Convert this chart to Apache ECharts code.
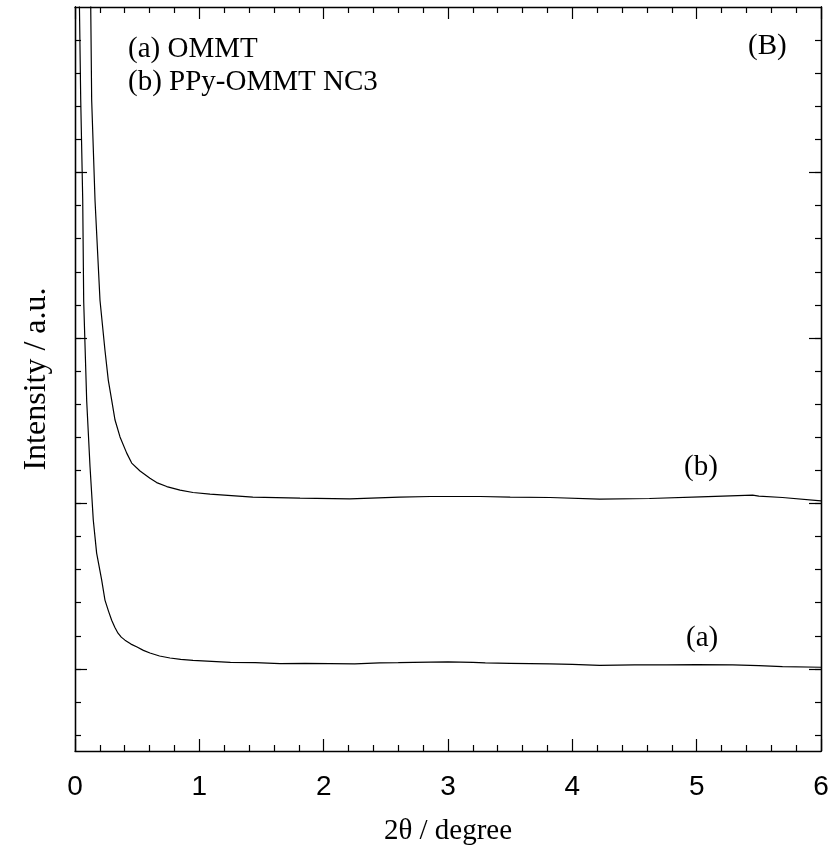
<!DOCTYPE html>
<html>
<head>
<meta charset="utf-8">
<script src="https://cdn.jsdelivr.net/npm/echarts@6/dist/echarts.min.js"></script>
<style>
  html, body { margin: 0; padding: 0; background: #fff; }
  #chart { width: 840px; height: 846px; }
</style>
</head>
<body>
<div id="chart"></div>
<script>
// curve (a) OMMT
var xA = [0.030, 0.035, 0.046, 0.062, 0.070, 0.094, 0.121, 0.147, 0.174, 0.214, 0.241, 0.270, 0.295, 0.320,
  0.346, 0.372, 0.402, 0.450, 0.499, 0.550, 0.603, 0.680, 0.764, 0.850, 0.949, 1.25, 1.45, 1.65, 1.85,
  2.05, 2.25, 2.45, 2.60, 2.72, 3.00, 3.20, 3.30, 3.50, 3.82, 4.00, 4.22, 4.50, 4.76, 5.00, 5.29, 5.50,
  5.69, 6.00];
var yA = [23.5, 22.2, 19.2, 16.2, 13.1, 10.1, 8.1, 6.5, 5.5, 4.7, 4.08, 3.74, 3.47, 3.26,
  3.08, 2.96, 2.87, 2.75, 2.66, 2.56, 2.48, 2.39, 2.33, 2.29, 2.26, 2.20, 2.19, 2.16, 2.17,
  2.16, 2.15, 2.18, 2.19, 2.20, 2.21, 2.20, 2.18, 2.17, 2.15, 2.14, 2.11, 2.12, 2.12, 2.13, 2.12, 2.10,
  2.07, 2.05];

// curve (b) PPy-OMMT NC3
var xB = [0.120, 0.126, 0.134, 0.161, 0.201, 0.241, 0.268, 0.295, 0.322, 0.362, 0.416, 0.456, 0.523, 0.603,
  0.657, 0.738, 0.845, 0.949, 1.086, 1.43, 1.81, 2.21, 2.61, 2.86, 3.26, 3.50, 3.82, 4.22, 4.62, 5.03,
  5.45, 5.50, 5.69, 6.00];
var yB = [23.5, 22.2, 19.2, 16.16, 13.14, 11.63, 10.72, 10.12, 9.52, 9.01, 8.52, 8.22, 7.98, 7.76,
  7.63, 7.51, 7.40, 7.33, 7.28, 7.19, 7.16, 7.14, 7.19, 7.21, 7.21, 7.19, 7.18, 7.13, 7.15, 7.20,
  7.25, 7.22, 7.18, 7.08];

var xTicks = ['0', '1', '2', '3', '4', '5', '6'];
var yMinorTicks = [];
for (var i = 0; i <= 21; i++) yMinorTicks.push(i);
var yMajorTicks = [2, 7, 12, 17];

function pairs(xs, ys) {
  return xs.map(function (x, i) { return [x, ys[i]]; });
}

var serif = "'Liberation Serif', 'Times New Roman', serif";
var axisLine = { show: true, onZero: false, lineStyle: { color: '#000', width: 1.3 } };

function xAx(pos, labels) {
  return {
    type: 'value', position: pos, min: 0, max: 6, interval: 1,
    axisLine: axisLine,
    axisTick: { show: true, inside: true, length: 12, lineStyle: { color: '#000', width: 1.2 } },
    minorTick: { show: true, splitNumber: 5, length: 6, lineStyle: { color: '#000', width: 1.2 } },
    splitLine: { show: false },
    axisLabel: labels ? {
      show: true, margin: 22, color: '#000', fontSize: 28,
      fontFamily: "'Liberation Sans', Arial, sans-serif",
      formatter: function (v) { return xTicks[Math.round(v)]; }
    } : { show: false }
  };
}

function yAx(pos, ticks, len) {
  return {
    type: 'value', position: pos, min: -0.48, max: 22,
    axisLine: axisLine,
    axisTick: { show: true, inside: true, length: len, customValues: ticks, lineStyle: { color: '#000', width: 1.2 } },
    splitLine: { show: false },
    axisLabel: { show: false }
  };
}

var myChart = echarts.init(document.getElementById('chart'));
var xBottom = xAx('bottom', true);
xBottom.name = '2\u03b8 / degree';
xBottom.nameLocation = 'middle';
xBottom.nameGap = 66;
xBottom.nameTextStyle = { fontFamily: serif, fontSize: 29, color: '#000' };

var yLeft = yAx('left', yMinorTicks, 6);
yLeft.name = 'Intensity / a.u.';
yLeft.nameLocation = 'middle';
yLeft.nameGap = 22;
yLeft.nameTextStyle = { fontFamily: serif, fontSize: 32, color: '#000' };

myChart.setOption({
  animation: false,
  backgroundColor: '#fff',
  grid: { left: 75, right: 19, top: 7, bottom: 95, outerBoundsMode: 'none' },
  xAxis: [xBottom, xAx('top', false)],
  yAxis: [yLeft, yAx('left', yMajorTicks, 12), yAx('right', yMinorTicks, 6), yAx('right', yMajorTicks, 12)],
  series: [
    {
      name: '(a)', type: 'line', xAxisIndex: 0, yAxisIndex: 0,
      data: pairs(xA, yA), showSymbol: false, clip: true,
      lineStyle: { color: '#000', width: 1.2 }
    },
    {
      name: '(b)', type: 'line', xAxisIndex: 0, yAxisIndex: 0,
      data: pairs(xB, yB), showSymbol: false, clip: true,
      lineStyle: { color: '#000', width: 1.2 }
    }
  ],
  graphic: [
    { type: 'text', left: 128, top: 35, style: { text: '(a) OMMT', font: '29px ' + serif, fill: '#000' } },
    { type: 'text', left: 128, top: 68, style: { text: '(b) PPy-OMMT NC3', font: '29px ' + serif, fill: '#000' } },
    { type: 'text', left: 748, top: 32, style: { text: '(B)', font: '29px ' + serif, fill: '#000' } },
    { type: 'text', left: 684, top: 453, style: { text: '(b)', font: '29px ' + serif, fill: '#000' } },
    { type: 'text', left: 686, top: 624, style: { text: '(a)', font: '29px ' + serif, fill: '#000' } }
  ]
});
</script>
</body>
</html>
